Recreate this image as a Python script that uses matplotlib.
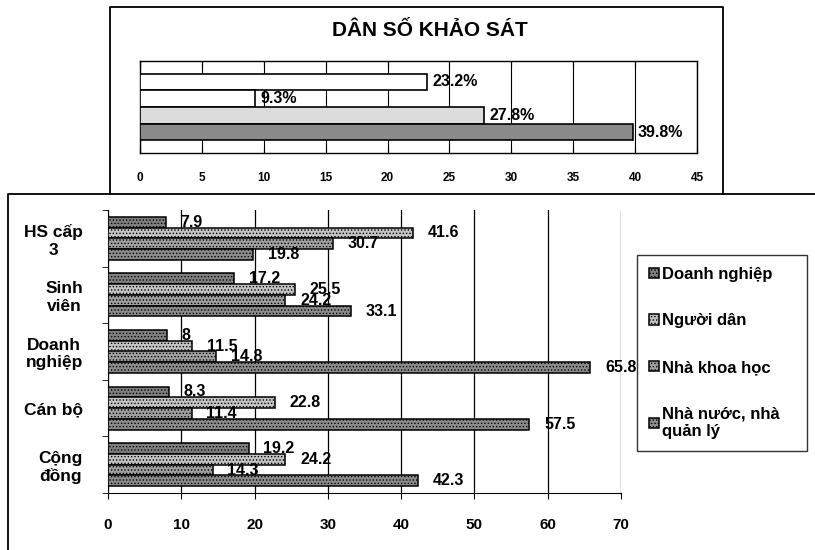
import numpy as np
import matplotlib.pyplot as plt
from matplotlib.lines import Line2D

plt.rcParams['font.family'] = ['Liberation Sans', 'DejaVu Sans']
plt.rcParams['font.weight'] = 'bold'
plt.rcParams['hatch.linewidth'] = 0.6

# Top chart data
topTitle = "DÂN SỐ KHẢO SÁT"
topValues = [23.2, 9.3, 27.8, 39.8]
topColors = ['white', 'white', '#dcdcdc', '#8a8a8a']

# Bottom chart data
categories = ["HS cấp\n3", "Sinh\nviên", "Doanh\nnghiệp", "Cán bộ", "Cộng\nđồng"]
series = ["Doanh nghiệp", "Người dân", "Nhà khoa học", "Nhà nước, nhà\nquản lý"]
doanhNghiep = [7.9, 17.2, 8, 8.3, 19.2]
nguoiDan = [41.6, 25.5, 11.5, 22.8, 24.2]
nhaKhoaHoc = [30.7, 24.2, 14.8, 11.4, 14.3]
nhaNuoc = [19.8, 33.1, 65.8, 57.5, 42.3]
seriesColors = ['#808080', '#c4c4c4', '#a0a0a0', '#8c8c8c']

W, H = 815, 550
fig = plt.figure(figsize=(W / 100, H / 100), dpi=100)


def figRect(x0, y0, x1, y1):
    # pixel box (top-left origin) -> figure fraction rect
    return [x0 / W, 1 - y1 / H, (x1 - x0) / W, (y1 - y0) / H]


# Outer boxes from the scanned page
fig.add_artist(Line2D([110 / W, 110 / W, 723 / W, 723 / W],
                      [1 - 194 / H, 1 - 7 / H, 1 - 7 / H, 1 - 194 / H],
                      color='black', lw=1.3, transform=fig.transFigure))
fig.add_artist(Line2D([815 / W, 8 / W, 8 / W],
                      [1 - 194 / H, 1 - 194 / H, 0],
                      color='black', lw=1.3, transform=fig.transFigure))

# ---------- Top chart ----------
axT = fig.add_axes(figRect(140, 61, 697, 153))
yT = np.arange(len(topValues))
axT.barh(yT, topValues, height=1.0, color=topColors, edgecolor='black', lw=1.2, zorder=3)
for y, v in zip(yT, topValues):
    axT.text(v + 0.4, y, f"{v}%", va='center', ha='left', fontsize=11.5, zorder=4)
axT.set_xlim(0, 45)
axT.set_ylim(4.25, -1.25)
axT.set_xticks(np.arange(0, 46, 5))
axT.set_yticks([])
axT.grid(axis='x', color='black', lw=0.8, zorder=0)
axT.tick_params(axis='x', direction='in', length=4, top=True, pad=14, labelsize=8.5)
for s in axT.spines.values():
    s.set_linewidth(1.0)
fig.text(430 / W, 1 - 30 / H, topTitle, ha='center', va='center', fontsize=15, fontweight='bold')

# ---------- Bottom chart ----------
axB = fig.add_axes(figRect(108, 210, 621, 493))
allSeries = [doanhNghiep, nguoiDan, nhaKhoaHoc, nhaNuoc]
h = 0.19
yB = np.arange(len(categories))
handles = []
for i, vals in enumerate(allSeries):
    pos = yB + (i - 1.5) * h
    b = axB.barh(pos, vals, height=h, color=seriesColors[i], edgecolor='black',
                 lw=1.1, hatch='.....', zorder=3, label=series[i])
    handles.append(b)
    for p, v in zip(pos, vals):
        axB.text(v + 2.0, p, f"{v:g}", va='center', ha='left', fontsize=11.5, zorder=4)

axB.set_xlim(0, 70)
axB.set_ylim(4.5, -0.5)
axB.set_xticks(np.arange(0, 71, 10))
axB.set_yticks(yB)
axB.set_yticklabels(categories, fontsize=12.5, multialignment='center')
axB.set_yticks(np.arange(-0.5, 5, 1), minor=True)
axB.tick_params(axis='y', which='major', length=0, pad=18)
axB.tick_params(axis='y', which='minor', length=4, direction='out')
axB.tick_params(axis='x', length=4, direction='out', pad=14, labelsize=11)
axB.grid(axis='x', color='black', lw=0.9, zorder=0)
axB.spines['top'].set_visible(False)
axB.spines['right'].set_visible(False)

leg = axB.legend(handles=handles, loc='upper left',
                 bbox_to_anchor=(637 / W, 1 - 448 / H, 170 / W, 193 / H), mode='expand',
                 bbox_transform=fig.transFigure, fontsize=12, frameon=True, fancybox=False,
                 edgecolor='black', handlelength=0.6, handleheight=0.6, handletextpad=0.2,
                 labelspacing=1.9, borderpad=0.7, borderaxespad=0)
leg.get_frame().set_linewidth(1.0)
leg.set_in_layout(False)

fig.savefig('out.png', dpi=100)
